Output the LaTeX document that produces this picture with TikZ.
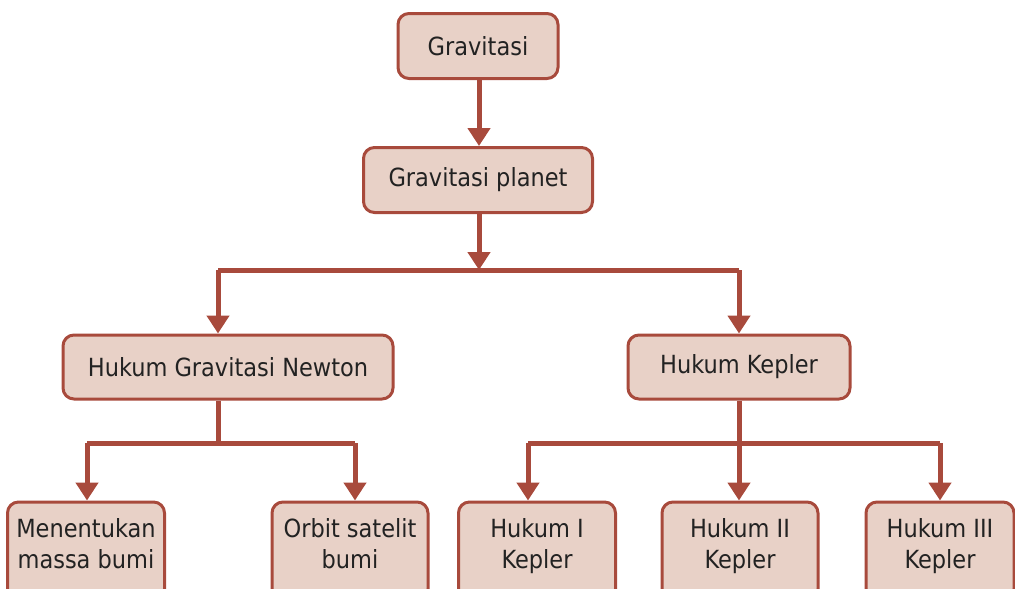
\documentclass[tikz,border=0pt]{standalone}
\usepackage{fontspec}
\setmainfont{DejaVu Sans Condensed}
\usepackage{tikz}
\usetikzlibrary{arrows.meta}
\definecolor{boxline}{HTML}{A84A3C}
\definecolor{boxfill}{HTML}{E8D1C7}
\definecolor{boxtext}{HTML}{222222}
\tikzset{
  box/.style={draw=boxline,fill=boxfill,line width=3pt,rounded corners=11pt,
    inner sep=0pt,align=center,text=boxtext,font=\fontsize{25}{31}\selectfont},
  leaf/.style={box,minimum height=98,text height=63pt,text depth=29pt},
  link/.style={draw=boxline,line width=5pt},
  arr/.style={link,-{Triangle[width=22pt,length=18pt]}}
}

\begin{document}
\begin{tikzpicture}[x=1pt,y=-1pt]
\clip (0,0) rectangle (1015,589);
\node[box,minimum width=160,minimum height=65] (grav) at (478,46) {Gravitasi};
\node[box,minimum width=229,minimum height=65] (planet) at (478,180) {Gravitasi planet};
\node[box,minimum width=330,minimum height=64] (newton) at (228,367) {Hukum Gravitasi Newton};
\node[box,minimum width=222,minimum height=64] (kepler) at (739,367) {Hukum Kepler};
\node[leaf,minimum width=157] (massa) at (86,551) {Menentukan\\massa bumi};
\node[leaf,minimum width=156] (orbit) at (350,551) {Orbit satelit\\bumi};
\node[leaf,minimum width=157] (kep1) at (537,551) {Hukum I\\Kepler};
\node[leaf,minimum width=156] (kep2) at (740,551) {Hukum II\\Kepler};
\node[leaf,minimum width=148] (kep3) at (940,551) {Hukum III\\Kepler};

% junctions
\coordinate (top) at (479,270);
\coordinate (jl) at (218,270);
\coordinate (jr) at (739,270);
\coordinate (nl) at (87,443);
\coordinate (nr) at (355,443);
\coordinate (kl) at (528,443);
\coordinate (kr) at (940,443);

\draw[arr] (grav.south -| top) -- (planet.north -| top);
\draw[arr] (planet.south -| top) -- (top);
\draw[link] (jl) -- (jr);
\draw[arr] (jl) -- (newton.north -| jl);
\draw[arr] (jr) -- (kepler.north -| jr);

\draw[link] (newton.south -| jl) -- (jl |- nl);
\draw[link] (nl) -- (nr);
\draw[arr] (nl) -- (massa.north -| nl);
\draw[arr] (nr) -- (orbit.north -| nr);

\draw[arr] (kepler.south -| jr) -- (kep2.north -| jr);
\draw[link] (kl) -- (kr);
\draw[arr] (kl) -- (kep1.north -| kl);
\draw[arr] (kr) -- (kep3.north -| kr);
\end{tikzpicture}
\end{document}
